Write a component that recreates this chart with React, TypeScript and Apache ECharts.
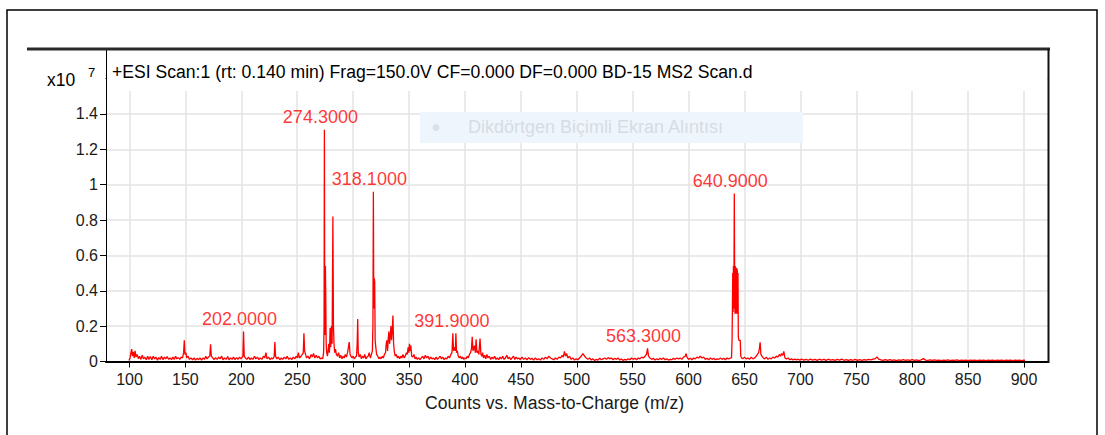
import React, { useEffect, useRef } from "react";
import * as echarts from "echarts";

// ---- axis / tick values ----
const X_TICK_MIN = 100;
const X_TICK_MAX = 900;
const X_TICK_STEP = 50;
const X_VIEW_MIN = 78.98;
const X_VIEW_MAX = 921.46;
const Y_MIN = 0;
const Y_MAX = 1.767;
const Y_STEP = 0.2;

const titleText = "+ESI Scan:1 (rt: 0.140 min) Frag=150.0V CF=0.000 DF=0.000 BD-15 MS2 Scan.d";
const xAxisTitle = "Counts vs. Mass-to-Charge (m/z)";
const yScaleText = "x10";
const yScaleExp = "7";
const watermarkText = "Dikdörtgen Biçimli Ekran Alıntısı";

// ---- annotated peaks (m/z, counts x10^7) ----
const peakLabelMz = [274.3, 318.1, 640.9, 202.0, 391.9, 563.3];
const peakLabelCounts = [1.31, 0.96, 0.95, 0.17, 0.16, 0.075];

// ---- spectrum (m/z, counts x10^7) ----
const spec100to204: [number, number][] = [
  [99.5, 0.005], [100.5, 0.02], [101.3, 0.05], [102, 0.07], [102.6, 0.03], [103.4, 0.055], [104.2, 0.02], [105, 0.06],
  [105.8, 0.025], [106.8, 0.04], [108, 0.015], [109, 0.03], [110.2, 0.012], [111.4, 0.035], [112.5, 0.015], [113.6, 0.025],
  [115, 0.01], [116.2, 0.03], [117.4, 0.012], [118.6, 0.028], [120, 0.01], [121.2, 0.03], [122.4, 0.015], [123.6, 0.025],
  [125, 0.008], [126.2, 0.022], [127.4, 0.012], [128.6, 0.03], [130, 0.01], [131.2, 0.025], [132.4, 0.015], [133.6, 0.028],
  [135, 0.012], [136.4, 0.02], [137.6, 0.01], [138.8, 0.025], [140, 0.012], [141.2, 0.03], [142.4, 0.015], [143.6, 0.022],
  [145, 0.012], [146.2, 0.025], [147.4, 0.02], [148.4, 0.05], [149, 0.12], [149.6, 0.04], [150.4, 0.05], [151.2, 0.02],
  [152.4, 0.03], [153.6, 0.012], [155, 0.02], [156.4, 0.01], [157.8, 0.02], [159, 0.008], [160.4, 0.018], [161.8, 0.01],
  [163, 0.02], [164.4, 0.008], [165.8, 0.02], [167, 0.012], [168.2, 0.03], [169.4, 0.015], [170.6, 0.025], [171.8, 0.03],
  [172.5, 0.097], [173.2, 0.03], [174.4, 0.02], [175.6, 0.01], [177, 0.022], [178.4, 0.012], [179.8, 0.025], [181, 0.015],
  [182.4, 0.03], [183.6, 0.01], [185, 0.02], [186.4, 0.012], [187.8, 0.028], [189, 0.01], [190.4, 0.02], [191.8, 0.012],
  [193, 0.025], [194.4, 0.01], [195.8, 0.022], [197, 0.012], [198.4, 0.025], [199.8, 0.015], [201.4, 0.03], [202, 0.17],
  [202.6, 0.03], [203.6, 0.02],
];

const spec204to273: [number, number][] = [
  [205, 0.012], [206.4, 0.025], [207.8, 0.01], [209, 0.02], [210.4, 0.012], [211.8, 0.03], [213, 0.015], [214.4, 0.025],
  [215.8, 0.01], [217, 0.02], [218.4, 0.012], [219.8, 0.03], [221, 0.02], [222, 0.05], [223, 0.015], [224.4, 0.025],
  [225.8, 0.01], [227, 0.02], [228.4, 0.015], [229.4, 0.03], [230, 0.11], [230.6, 0.03], [231.8, 0.015], [233, 0.025],
  [234.4, 0.01], [235.8, 0.02], [237, 0.012], [238.4, 0.025], [239.8, 0.015], [241, 0.03], [242.4, 0.012], [243.8, 0.02],
  [245, 0.01], [246.4, 0.025], [247.8, 0.015], [249, 0.03], [250.2, 0.02], [251, 0.05], [252, 0.02], [253.4, 0.03],
  [254.6, 0.04], [255.4, 0.05], [256, 0.16], [256.6, 0.06], [257.4, 0.04], [258.4, 0.02], [259.6, 0.03], [261, 0.015],
  [262.4, 0.04], [263.4, 0.025], [264.6, 0.045], [265.8, 0.02], [267, 0.035], [268.2, 0.02], [269.4, 0.03], [270.6, 0.015],
  [271.8, 0.02], [272.8, 0.015],
];

const spec273to300: [number, number][] = [
  [273.6, 0.05], [274, 0.2], [274.3, 1.31], [274.6, 0.3], [274.9, 0.15], [275.2, 0.54], [275.5, 0.39], [275.9, 0.1],
  [276.4, 0.05], [277, 0.03], [277.6, 0.06], [278.2, 0.1], [278.8, 0.05], [279.4, 0.19], [280, 0.08], [280.6, 0.2],
  [281.2, 0.1], [281.9, 0.82], [282.4, 0.2], [282.9, 0.1], [283.5, 0.05], [284.2, 0.07], [285, 0.04], [286, 0.03],
  [287, 0.05], [288, 0.02], [289, 0.035], [290, 0.015], [291, 0.03], [292, 0.02], [293, 0.04], [294, 0.025],
  [295, 0.05], [296.5, 0.11], [297.3, 0.04], [298, 0.03], [299, 0.02], [300, 0.03],
];

const spec300to360: [number, number][] = [
  [301, 0.015], [302, 0.025], [303, 0.03], [303.6, 0.1], [304.1, 0.24], [304.6, 0.05], [305.4, 0.025], [306.4, 0.04],
  [307.4, 0.015], [308.4, 0.03], [309.4, 0.02], [310.4, 0.04], [311.4, 0.015], [312.4, 0.025], [313.4, 0.03], [314.4, 0.05],
  [315.4, 0.02], [316.4, 0.04], [317.2, 0.06], [317.7, 0.2], [318.1, 0.96], [318.5, 0.3], [318.9, 0.47], [319.3, 0.45],
  [319.7, 0.12], [320.3, 0.08], [321, 0.04], [322, 0.03], [323, 0.015], [324, 0.025], [325, 0.015], [326, 0.03],
  [327, 0.02], [328, 0.04], [329, 0.05], [329.6, 0.1], [330.2, 0.12], [330.8, 0.06], [331.4, 0.13], [332, 0.17],
  [332.6, 0.1], [333.2, 0.14], [333.8, 0.2], [334.4, 0.12], [335, 0.18], [335.6, 0.26], [336.2, 0.1], [336.8, 0.06],
  [337.6, 0.03], [338.6, 0.04], [339.6, 0.02], [340.6, 0.03], [341.6, 0.015], [342.6, 0.03], [343.6, 0.02], [344.6, 0.04],
  [345.6, 0.02], [346.6, 0.03], [347.6, 0.05], [348.4, 0.04], [349.2, 0.08], [349.8, 0.05], [350.4, 0.1], [351, 0.06],
  [351.6, 0.09], [352.4, 0.03], [353.4, 0.025], [354.4, 0.04], [355.4, 0.015], [356.4, 0.025], [357.4, 0.012], [358.6, 0.02],
  [359.8, 0.01],
];

const spec360to450: [number, number][] = [
  [361, 0.02], [362.2, 0.03], [363.4, 0.015], [364.6, 0.035], [365.8, 0.02], [367, 0.03], [368.2, 0.012], [369.4, 0.025],
  [370.6, 0.015], [371.8, 0.02], [373, 0.01], [374.2, 0.025], [375.4, 0.012], [376.6, 0.02], [377.8, 0.03], [379, 0.015],
  [380.2, 0.025], [381.4, 0.01], [382.6, 0.02], [383.8, 0.015], [385, 0.03], [386.2, 0.02], [387.4, 0.04], [388.4, 0.05],
  [389.2, 0.16], [389.8, 0.06], [390.6, 0.08], [391.4, 0.06], [391.9, 0.16], [392.5, 0.05], [393.2, 0.06], [394, 0.03],
  [395, 0.02], [396, 0.03], [397, 0.015], [398, 0.025], [399, 0.012], [400, 0.02], [401, 0.015], [402, 0.03],
  [403, 0.02], [404, 0.04], [405, 0.05], [405.8, 0.07], [406.5, 0.14], [407.2, 0.06], [408.5, 0.09], [409.3, 0.05],
  [410, 0.125], [410.7, 0.05], [411.5, 0.06], [412.4, 0.04], [413.5, 0.13], [414.3, 0.04], [415.2, 0.03], [415.8, 0.05],
  [416.6, 0.02], [417.6, 0.035], [418.6, 0.015], [419.6, 0.04], [420.6, 0.02], [421.8, 0.03], [423, 0.012], [424.2, 0.025],
  [425.4, 0.015], [426.6, 0.03], [427.8, 0.012], [429, 0.02], [430.2, 0.01], [431.4, 0.025], [432.6, 0.015], [433.8, 0.03],
  [435, 0.012], [436.2, 0.02], [437.4, 0.035], [438.6, 0.015], [439.8, 0.025], [441, 0.01], [442.2, 0.02], [443.4, 0.03],
  [444.6, 0.012], [445.8, 0.025], [447, 0.015], [448.2, 0.02], [449.4, 0.01],
];

const spec450to639: [number, number][] = [
  [451, 0.025], [452.5, 0.012], [454, 0.02], [455.5, 0.01], [457, 0.022], [458.5, 0.012], [460, 0.018], [461.5, 0.008],
  [463, 0.02], [464.5, 0.01], [466, 0.015], [467.5, 0.008], [469, 0.02], [470.5, 0.012], [472, 0.025], [473.5, 0.015],
  [475, 0.03], [476.5, 0.02], [478, 0.015], [479.5, 0.01], [481, 0.02], [482.5, 0.012], [484, 0.025], [485.5, 0.02],
  [487, 0.035], [488, 0.025], [489, 0.057], [490, 0.03], [491, 0.045], [492, 0.02], [493.5, 0.03], [495, 0.012],
  [496.5, 0.02], [498, 0.008], [499.5, 0.015], [501, 0.01], [502.5, 0.02], [504, 0.03], [505.5, 0.045], [507, 0.03],
  [508.5, 0.02], [510, 0.012], [511.5, 0.02], [513, 0.008], [514.5, 0.015], [516, 0.006], [517.5, 0.012], [519, 0.008],
  [520.5, 0.018], [522, 0.01], [523.5, 0.015], [525, 0.02], [526.5, 0.012], [528, 0.022], [529.5, 0.015], [531, 0.02],
  [532.5, 0.01], [534, 0.018], [535.5, 0.012], [537, 0.02], [538.5, 0.008], [540, 0.015], [541.5, 0.006], [543, 0.012],
  [544.5, 0.008], [546, 0.015], [547.5, 0.01], [549, 0.02], [550.5, 0.012], [552, 0.018], [553.5, 0.01], [555, 0.02],
  [556.5, 0.015], [558, 0.025], [559.5, 0.02], [561, 0.03], [562.4, 0.04], [563.3, 0.075], [564.2, 0.03], [565.5, 0.02],
  [567, 0.012], [568.5, 0.018], [570, 0.008], [571.5, 0.015], [573, 0.01], [574.5, 0.018], [576, 0.012], [577.5, 0.02],
  [579, 0.01], [580.5, 0.015], [582, 0.008], [583.5, 0.012], [585, 0.01], [586.5, 0.018], [588, 0.012], [589.5, 0.02],
  [591, 0.015], [592.5, 0.02], [594, 0.012], [595.5, 0.025], [597, 0.03], [597.8, 0.045], [598.6, 0.025], [600, 0.012],
  [601.5, 0.018], [603, 0.01], [604.5, 0.02], [606, 0.015], [607.5, 0.025], [609, 0.02], [610.5, 0.03], [612, 0.02],
  [613.5, 0.025], [615, 0.012], [616.5, 0.018], [618, 0.01], [619.5, 0.02], [621, 0.012], [622.5, 0.018], [624, 0.01],
  [625.5, 0.015], [627, 0.012], [628.5, 0.02], [630, 0.012], [631.5, 0.018], [633, 0.01], [634.5, 0.02], [636, 0.015],
  [637.5, 0.02], [638.4, 0.02],
];

const spec639to700: [number, number][] = [
  [638.9, 0.12], [639.2, 0.3], [639.5, 0.5], [639.8, 0.28], [640.1, 0.54], [640.5, 0.3], [640.9, 0.95], [641.2, 0.48],
  [641.5, 0.27], [641.8, 0.54], [642.1, 0.3], [642.4, 0.52], [642.7, 0.27], [643, 0.53], [643.3, 0.3], [643.6, 0.52],
  [643.9, 0.27], [644.2, 0.5], [644.5, 0.14], [645, 0.12], [645.6, 0.12], [646.2, 0.12], [646.7, 0.03], [647.5, 0.02],
  [648.5, 0.015], [650, 0.025], [651.5, 0.015], [653, 0.02], [654.5, 0.012], [656, 0.025], [657.5, 0.015], [659, 0.02],
  [660.5, 0.03], [661.6, 0.04], [662.6, 0.05], [663.3, 0.07], [664, 0.108], [664.7, 0.04], [665.6, 0.03], [666.8, 0.02],
  [668, 0.015], [669.5, 0.025], [671, 0.012], [672.5, 0.02], [674, 0.015], [675.5, 0.025], [677, 0.02], [678.5, 0.03],
  [680, 0.025], [681.2, 0.04], [682.2, 0.03], [683.2, 0.045], [684.2, 0.035], [685.2, 0.057], [686.2, 0.02], [687.5, 0.015],
  [689, 0.02], [690.5, 0.01], [692, 0.015], [693.5, 0.009], [695, 0.013], [696.5, 0.009], [698, 0.013], [699.5, 0.008],
];

const spec700to901: [number, number][] = [
  [701, 0.014], [703, 0.008], [705, 0.012], [707, 0.007], [709, 0.013], [711, 0.008], [713, 0.012], [715, 0.006],
  [717, 0.013], [719, 0.008], [721, 0.012], [723, 0.006], [725, 0.013], [727, 0.008], [729, 0.011], [731, 0.006],
  [733, 0.012], [735, 0.008], [737, 0.013], [739, 0.007], [741, 0.011], [743, 0.006], [745, 0.01], [747, 0.007],
  [749, 0.012], [751, 0.006], [753, 0.01], [755, 0.007], [757, 0.011], [759, 0.008], [761, 0.012], [763, 0.009],
  [765, 0.013], [767, 0.016], [768.5, 0.026], [770, 0.013], [772, 0.009], [774, 0.006], [776, 0.01], [778, 0.006],
  [780, 0.01], [782, 0.006], [784, 0.009], [786, 0.005], [788, 0.009], [790, 0.006], [792, 0.01], [794, 0.006],
  [796, 0.009], [798, 0.006], [800, 0.01], [802, 0.006], [804, 0.009], [806, 0.005], [808, 0.009], [810, 0.016],
  [812, 0.008], [814, 0.006], [816, 0.009], [818, 0.006], [820, 0.009], [822, 0.006], [824, 0.008], [826, 0.005],
  [828, 0.008], [830, 0.006], [832, 0.009], [834, 0.005], [836, 0.008], [838, 0.006], [840, 0.009], [842, 0.005],
  [844, 0.008], [846, 0.006], [848, 0.008], [850, 0.005], [852, 0.008], [854, 0.006], [856, 0.008], [858, 0.005],
  [860, 0.008], [862, 0.006], [864, 0.008], [866, 0.005], [868, 0.007], [870, 0.006], [872, 0.008], [874, 0.005],
  [876, 0.007], [878, 0.006], [880, 0.008], [882, 0.005], [884, 0.007], [886, 0.006], [888, 0.008], [890, 0.005],
  [892, 0.007], [894, 0.006], [896, 0.007], [898, 0.005], [900, 0.007], [901, 0.006],
];

const FONT = "'Liberation Sans', Arial, sans-serif";

export default function App() {
  const ref = useRef<HTMLDivElement>(null);

  useEffect(() => {
    if (!ref.current) return;
    const chart = echarts.init(ref.current, undefined, { renderer: "svg" });

    const spectrum = [
      ...spec100to204,
      ...spec204to273,
      ...spec273to300,
      ...spec300to360,
      ...spec360to450,
      ...spec450to639,
      ...spec639to700,
      ...spec700to901,
    ];
    const labelData = peakLabelMz.map((m, i) => [m, peakLabelCounts[i]]);

    const option: any = {
      animation: false,
      backgroundColor: "#ffffff",
      textStyle: { fontFamily: FONT },
      grid: [
        { left: 106, right: 57, top: 49, bottom: 73.5 },
        { left: 129.5, right: 81, top: 49, bottom: 73.5 },
      ],
      xAxis: [
        {
          type: "value",
          gridIndex: 0,
          min: X_VIEW_MIN,
          max: X_VIEW_MAX,
          axisLine: { show: true, onZero: false, lineStyle: { color: "#000", width: 2 } },
          axisTick: { show: false },
          axisLabel: { show: false },
          splitLine: { show: false },
        },
        {
          type: "value",
          gridIndex: 1,
          min: X_TICK_MIN,
          max: X_TICK_MAX,
          interval: X_TICK_STEP,
          axisLine: { show: false, onZero: false },
          axisTick: { show: true, length: 6, lineStyle: { color: "#000", width: 1 } },
          axisLabel: { fontSize: 16, color: "#1a1a1a", margin: 10, fontFamily: FONT },
          splitLine: { show: true, lineStyle: { color: "#e3e3e3", width: 1.5 } },
        },
      ],
      yAxis: [
        {
          type: "value",
          gridIndex: 0,
          min: Y_MIN,
          max: Y_MAX,
          interval: Y_STEP,
          axisLine: { show: true, onZero: false, lineStyle: { color: "#000", width: 1 } },
          axisTick: { show: true, length: 6, lineStyle: { color: "#000", width: 1 } },
          axisLabel: {
            fontSize: 16,
            color: "#1a1a1a",
            margin: 8,
            fontFamily: FONT,
            formatter: (v: number) => (v > 1.5 ? "" : String(Math.round(v * 10) / 10)),
          },
          splitLine: { show: true, lineStyle: { color: "#e3e3e3", width: 1.5 } },
        },
        { type: "value", gridIndex: 1, min: 0, max: 1, show: false },
      ],
      series: [
        {
          type: "line",
          xAxisIndex: 0,
          yAxisIndex: 0,
          data: spectrum,
          showSymbol: false,
          symbol: "none",
          silent: true,
          lineStyle: { color: "#ff0000", width: 1.3 },
          z: 3,
        },
        {
          type: "scatter",
          xAxisIndex: 0,
          yAxisIndex: 0,
          data: labelData,
          symbolSize: 1,
          itemStyle: { color: "rgba(0,0,0,0)" },
          silent: true,
          z: 4,
          label: {
            show: true,
            position: "top",
            distance: 3,
            offset: [-4, 0],
            color: "#ff0000",
            fontSize: 18,
            fontFamily: FONT,
            formatter: (p: any) => Number(p.value[0]).toFixed(4),
          },
        },
      ],
      graphic: [
        // outer frame
        { type: "rect", z: 20, shape: { x: 7, y: 10, width: 1090, height: 440 }, style: { fill: "none", stroke: "#000", lineWidth: 1.5 } },
        // white band behind title (hides top grid lines)
        { type: "rect", z: 10, shape: { x: 107, y: 50, width: 940, height: 41 }, style: { fill: "#fff" } },
        { type: "rect", z: 10, shape: { x: 97, y: 73, width: 8.5, height: 12 }, style: { fill: "#fff" } },
        // thick top rule
        { type: "line", z: 21, shape: { x1: 27, y1: 49, x2: 1050, y2: 49 }, style: { stroke: "#2a2a2a", lineWidth: 3 } },
        // right plot border
        { type: "line", z: 21, shape: { x1: 1048.5, y1: 49, x2: 1048.5, y2: 363 }, style: { stroke: "#111", lineWidth: 2 } },
        // title
        { type: "text", z: 22, left: 112, top: 63, style: { text: titleText, fill: "#000", fontSize: 17.6, fontFamily: FONT } },
        // scale factor
        { type: "text", z: 22, left: 47, top: 71, style: { text: yScaleText, fill: "#000", fontSize: 17.5, fontFamily: FONT } },
        { type: "text", z: 22, left: 88, top: 66, style: { text: yScaleExp, fill: "#000", fontSize: 13, fontFamily: FONT } },
        // watermark
        { type: "rect", z: 11, shape: { x: 420, y: 112, width: 383, height: 31 }, style: { fill: "#eff5fc" } },
        { type: "circle", z: 12, shape: { cx: 436, cy: 127.5, r: 3.5 }, style: { fill: "#dbe1e8" } },
        { type: "text", z: 12, left: 468, top: 118, style: { text: watermarkText, fill: "#d6dce3", fontSize: 18, fontFamily: FONT } },
        // x axis name
        { type: "text", z: 22, left: 425, top: 394, style: { text: xAxisTitle, fill: "#1a1a1a", fontSize: 17.6, fontFamily: FONT } },
      ],
    };

    chart.setOption(option);
    return () => chart.dispose();
  }, []);

  return (
    <div
      ref={ref}
      style={{ position: "fixed", left: 0, top: 0, width: 1105, height: 435, background: "#fff" }}
    />
  );
}
